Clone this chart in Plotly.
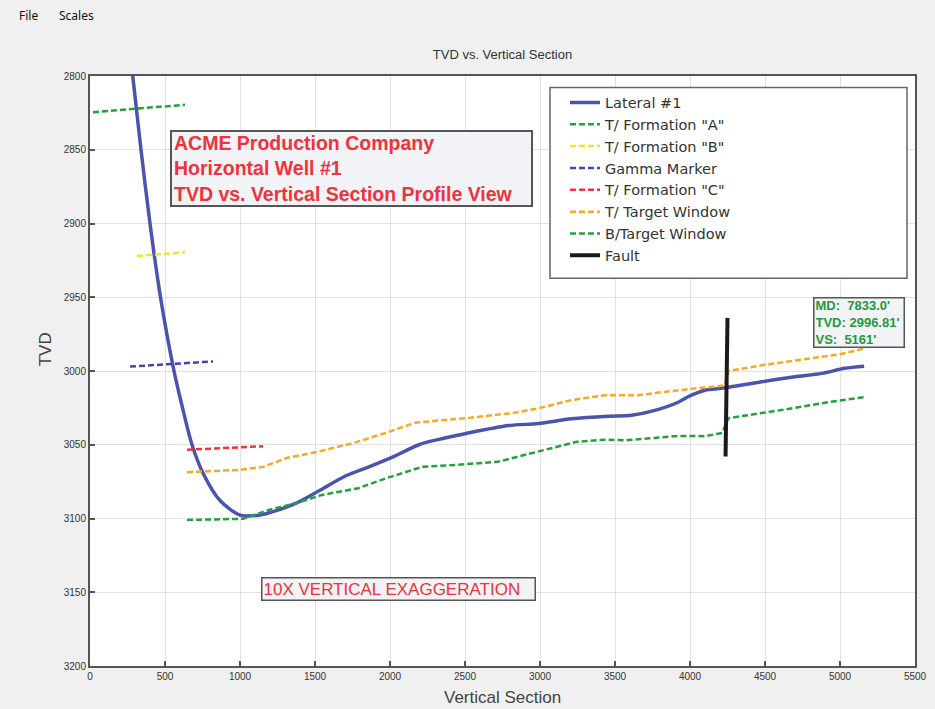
import plotly.graph_objects as go

# ---------------- data ----------------
lateral_vs = [262, 285, 340, 400, 470, 560, 605, 680, 757, 868, 1000, 1110, 1199, 1375, 1530,
              1706, 1859, 2013, 2192, 2318, 2500, 2791, 2990, 3210, 3457, 3610, 3766, 3925,
              3990, 4100, 4233, 4478, 4700, 4878, 5033, 5161]
lateral_tvd = [2780, 2800, 2850, 2900, 2950, 3000, 3020, 3050, 3070, 3088, 3097.7, 3098, 3096,
               3089.6, 3081, 3071, 3065, 3058.6, 3050, 3046.5, 3042.5, 3037, 3035.6, 3032.4,
               3030.6, 3030, 3026.7, 3021, 3017.3, 3013, 3011.4, 3007.3, 3003.9, 3001.6,
               2998.2, 2996.8]

form_a_vs = [20, 633]
form_a_tvd = [2824.5, 2819.5]

form_b_vs = [313, 633]
form_b_tvd = [2922, 2919.5]

gamma_vs = [267, 820]
gamma_tvd = [2997, 2993.5]

form_c_vs = [647, 1155]
form_c_tvd = [3053.4, 3051]

t_target_vs = [647, 1000, 1155, 1310, 1530, 1750, 1971, 2170, 2390, 2500, 2812, 2990, 3210,
               3430, 3650, 3925, 4233, 4255, 4489, 4822, 5000, 5167]
t_target_tvd = [3068.6, 3067, 3065, 3059, 3054.5, 3049, 3042, 3035, 3033, 3032, 3028.6, 3025.3,
                3019.7, 3016.4, 3016.4, 3013, 3009.8, 3000, 2996, 2991.5, 2988.6, 2984.7]

b_target_vs = [647, 1022, 1199, 1375, 1546, 1788, 1971, 2214, 2390, 2715, 2980, 3245, 3430,
               3563, 3925, 4100, 4215, 4255, 4600, 4933, 5167]
b_target_tvd = [3101, 3100.2, 3094, 3089.6, 3084, 3079.5, 3072.8, 3065, 3064, 3061.6, 3054.8,
                3048, 3046.6, 3047, 3044, 3044.2, 3042, 3032, 3026.6, 3021, 3017.6]

fault_vs = [4250, 4237]
fault_tvd = [2964, 3058]

x_ticks = [0, 500, 1000, 1500, 2000, 2500, 3000, 3500, 4000, 4500, 5000, 5500]
y_ticks = [2800, 2850, 2900, 2950, 3000, 3050, 3100, 3150, 3200]

# ---------------- figure ----------------
W, H = 935, 709
L, R, T, B = 90, 20, 75.5, 43
PW, PH = W - L - R, H - T - B


def px(xp):
    return (xp - L) / PW


def py(yp):
    return 1 - (yp - T) / PH


DASH = "6px,3px"
fig = go.Figure()
series = [
    ("Lateral #1", lateral_vs, lateral_tvd, "#4a53ad", 3.5, "solid", "spline"),
    ("T/ Formation \"A\"", form_a_vs, form_a_tvd, "#25a03c", 2.5, DASH, "linear"),
    ("T/ Formation \"B\"", form_b_vs, form_b_tvd, "#f2e62a", 2.5, DASH, "linear"),
    ("Gamma Marker", gamma_vs, gamma_tvd, "#4048b0", 2.5, DASH, "linear"),
    ("T/ Formation \"C\"", form_c_vs, form_c_tvd, "#f4323c", 2.5, DASH, "linear"),
    ("T/ Target Window", t_target_vs, t_target_tvd, "#f9a823", 2.5, DASH, "linear"),
    ("B/Target Window", b_target_vs, b_target_tvd, "#25a03c", 2.5, DASH, "linear"),
    ("Fault", fault_vs, fault_tvd, "#1a1a1a", 4, "solid", "linear"),
]
for i, (name, xs, ys, col, w, dash, shape) in enumerate(series):
    fig.add_trace(go.Scatter(
        x=xs, y=ys, name=name, mode="lines", legendgroup=f"g{i}",
        line=dict(color=col, width=w, dash=dash, shape=shape, smoothing=0.8),
    ))

# legend frame
fig.add_shape(type="rect", xref="paper", yref="paper",
              x0=px(550), x1=px(907), y0=py(278), y1=py(87),
              line=dict(color="#666666", width=1.5), fillcolor="white", layer="above")

annotations = [
    # menu
    dict(text="File", x=px(17), y=py(15), xanchor="left", yanchor="middle",
         font=dict(size=12, color="#111", family="Noto Sans")),
    dict(text="Scales", x=px(57), y=py(15), xanchor="left", yanchor="middle",
         font=dict(size=12, color="#111", family="Noto Sans")),
    # axis titles
    dict(text="Vertical Section", x=0.5, y=py(698), xanchor="center", yanchor="middle",
         font=dict(size=17, color="#444", family="Liberation Sans")),
    dict(text="TVD", x=px(45), y=py(349), xanchor="center", yanchor="middle", textangle=-90,
         font=dict(size=17, color="#444", family="Liberation Sans")),
    # company box
    dict(text="<b>ACME Production Company<br>Horizontal Well #1<br>TVD vs. Vertical Section Profile View</b>",
         x=px(170), y=py(130), xanchor="left", yanchor="top", align="left",
         width=355, height=69, valign="middle",
         font=dict(size=19.5, color="#f0323a", family="Liberation Sans"),
         bgcolor="#f1f3f6", bordercolor="#555", borderwidth=2, borderpad=2),
    # exaggeration
    dict(text="10X VERTICAL EXAGGERATION", x=px(261), y=py(577), xanchor="left", yanchor="top",
         width=270, height=19, align="left",
         font=dict(size=17, color="#f0323a", family="Liberation Sans"),
         bgcolor="#f1f3f6", bordercolor="#555", borderwidth=1.5, borderpad=1),
    # MD box
    dict(text="<b>MD:&nbsp; 7833.0'<br>TVD: 2996.81'<br>VS:&nbsp; 5161'</b>",
         x=px(813), y=py(297), xanchor="left", yanchor="top", align="left",
         width=87, height=46,
         font=dict(size=13, color="#1f9a3c", family="Liberation Sans"),
         bgcolor="#f1f3f6", bordercolor="#555", borderwidth=1.5, borderpad=1),
]
for a in annotations:
    a.setdefault("xref", "paper")
    a.setdefault("yref", "paper")
    a["showarrow"] = False
    fig.add_annotation(**a)

axis_common = dict(
    showgrid=True, gridcolor="#e2e2e2", gridwidth=1,
    showline=True, linecolor="#555", linewidth=2, mirror=True,
    ticks="inside", ticklen=5, tickcolor="#555", tickwidth=1.5,
    tickfont=dict(size=10, color="#333", family="Liberation Sans"),
    zeroline=False,
)
fig.update_xaxes(range=[0, 5500], tickvals=x_ticks, ticktext=[str(v) for v in x_ticks], **axis_common)
fig.update_yaxes(range=[3200, 2800], tickvals=y_ticks, ticktext=[str(v) for v in y_ticks], **axis_common)

fig.update_layout(
    width=W, height=H,
    margin=dict(l=L, r=R, t=T, b=B, autoexpand=False),
    paper_bgcolor="#f0f0f0", plot_bgcolor="white",
    title=dict(text="TVD vs. Vertical Section", x=0.5, xref="paper", y=1 - 54 / H, yanchor="middle",
               font=dict(size=13, color="#333", family="Liberation Sans")),
    showlegend=True,
    legend=dict(x=px(565), y=py(86), xanchor="left", yanchor="top",
                bgcolor="rgba(0,0,0,0)", borderwidth=0, tracegroupgap=0,
                font=dict(size=14.5, color="#333", family="DejaVu Sans")),
)

fig.write_html(
    "out.html",
    config={"displayModeBar": False},
    post_script="document.body.style.margin='0';document.body.style.overflow='hidden';"
                "document.body.style.background='#f0f0f0';",
)
